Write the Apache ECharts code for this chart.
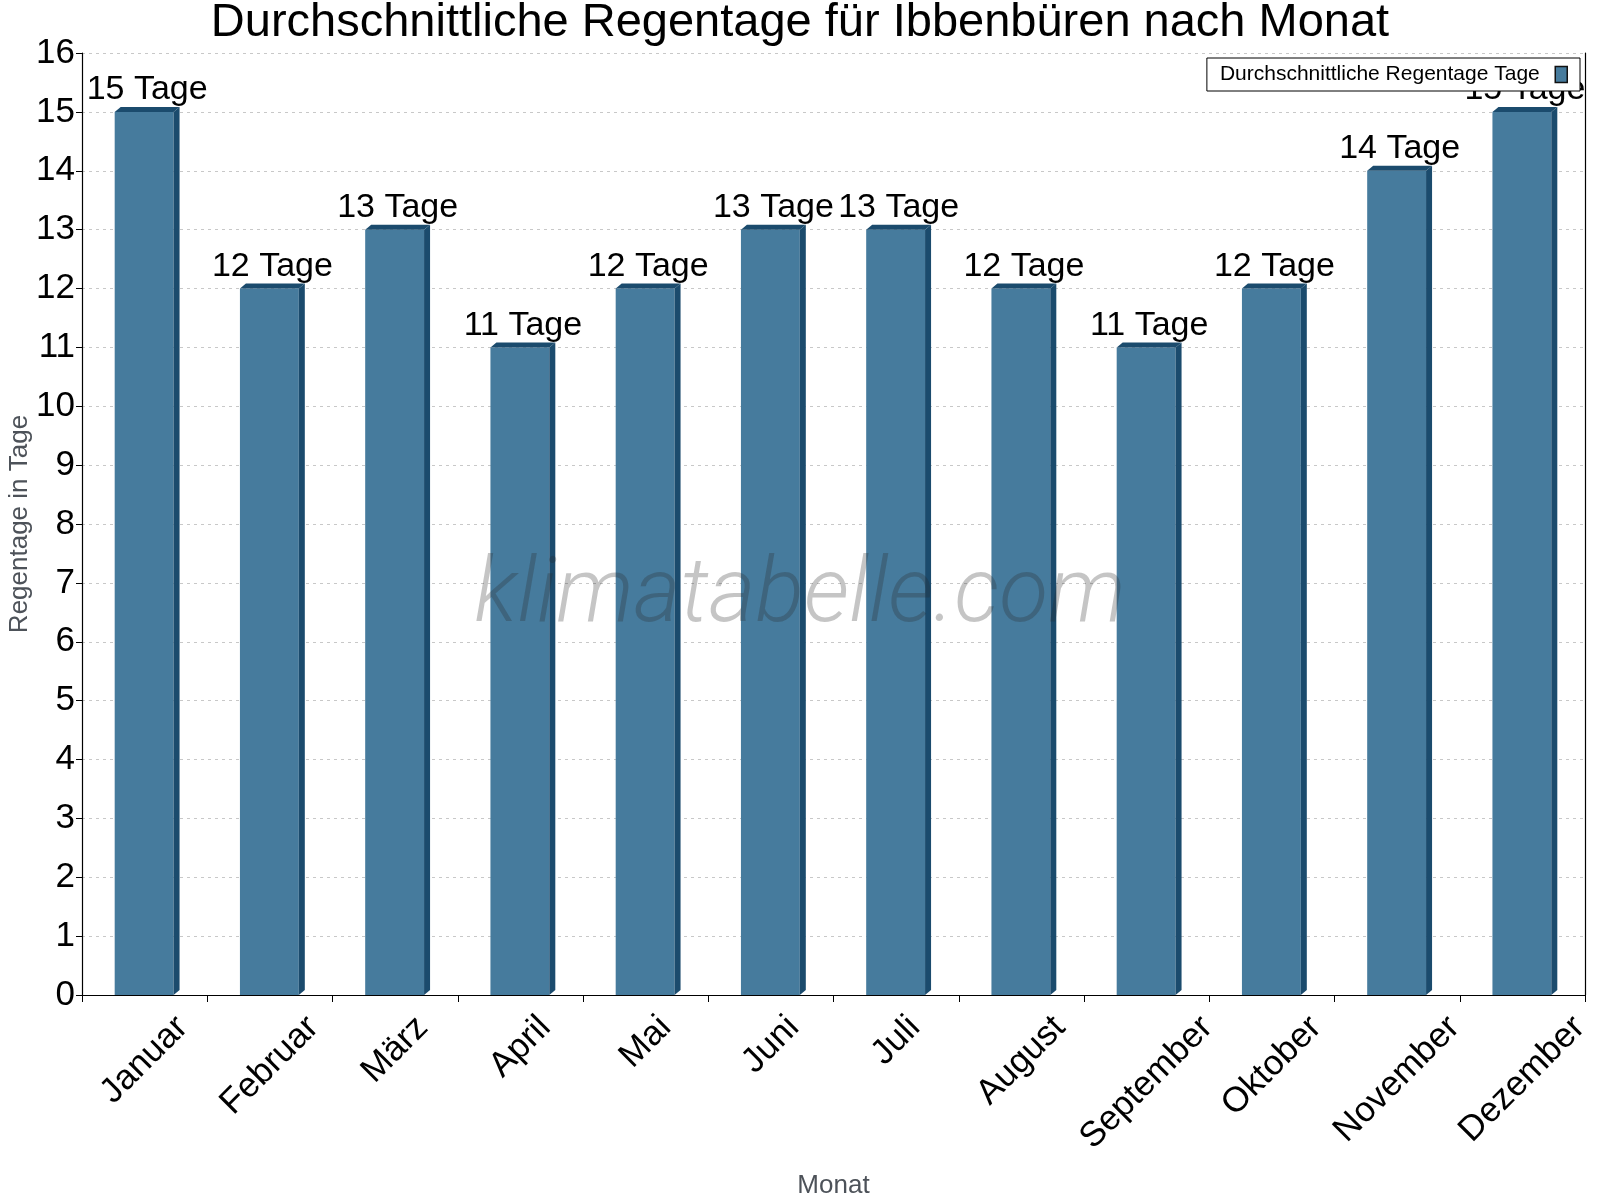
<!DOCTYPE html>
<html>
<head>
<meta charset="utf-8">
<script src="https://cdn.jsdelivr.net/npm/echarts/dist/echarts.min.js"></script>
<style>html,body{margin:0;padding:0;background:#fff}#c{width:1600px;height:1200px}</style>
</head>
<body>
<div id="c"></div>
<script>
// ---- data ----
const months = ['Januar', 'Februar', 'März', 'April', 'Mai', 'Juni', 'Juli', 'August', 'September', 'Oktober', 'November', 'Dezember'];
const rainDays = [15, 12, 13, 11, 12, 13, 13, 12, 11, 12, 14, 15];
const valueSuffix = ' Tage';
const titleText = 'Durchschnittliche Regentage für Ibbenbüren nach Monat';
const seriesName = 'Durchschnittliche Regentage Tage';
const yAxisName = 'Regentage in Tage';
const xAxisName = 'Monat';
const watermarkText = 'klimatabelle.com';

// ---- style ----
const FONT = '"Liberation Sans", Arial, sans-serif';
const FRONT = '#467b9d';
const DARK = '#1b4b6d';
const VALUE_SIZE = 34;
const CAT_SIZE = 35;

const ctx2d = document.createElement('canvas').getContext('2d');
function textWidth(t, size) {
  ctx2d.font = size + 'px "Liberation Sans", Arial, sans-serif';
  return ctx2d.measureText(t).width;
}

const chart = echarts.init(document.getElementById('c'), null, {renderer: 'canvas'});

function renderItem(params, api) {
  const i = api.value(0);
  const v = api.value(1);
  const cTop = api.coord([i, v]);
  const cBase = api.coord([i, 0]);
  const bw = api.size([1, 0])[0] * 0.47;
  const x0 = cTop[0] - bw / 2 - 0.5;
  const x1 = x0 + bw;
  const dx = 6, dy = 5;
  const yT = cTop[1], yB = cBase[1];
  const label = months[i];
  const lw = textWidth(label, CAT_SIZE);
  const lh = CAT_SIZE * 1.15;
  const half = (lw + lh) * Math.SQRT1_2 / 2;
  return {
    type: 'group',
    children: [
      {type: 'rect', shape: {x: x0, y: yT, width: bw, height: yB - yT}, style: {fill: FRONT}},
      {type: 'polygon', shape: {points: [[x1, yT], [x1 + dx, yT - dy], [x1 + dx, yB - dy], [x1, yB]]}, style: {fill: DARK}},
      {type: 'polygon', shape: {points: [[x0, yT], [x0 + dx, yT - dy], [x1 + dx, yT - dy], [x1, yT]]}, style: {fill: DARK}},
      {type: 'text', x: x0 + (bw + dx) / 2, y: yT - 5,
        style: {text: v + valueSuffix, font: VALUE_SIZE + 'px ' + FONT, fill: '#000', align: 'center', verticalAlign: 'bottom'}},
      {type: 'text', x: cBase[0], y: yB + 13 + half, rotation: Math.PI / 4,
        style: {text: label, font: CAT_SIZE + 'px ' + FONT, fill: '#000', align: 'center', verticalAlign: 'middle'}}
    ]
  };
}

const option = {
  backgroundColor: '#fff',
  animation: false,
  title: {
    text: titleText,
    left: 'center',
    top: 0,
    padding: 0,
    textStyle: {fontFamily: FONT, fontSize: 47, fontWeight: 'normal', color: '#000'}
  },
  legend: {
    right: 20,
    top: 58,
    align: 'right',
    icon: 'rect',
    itemWidth: 12,
    itemHeight: 16,
    padding: [6, 12, 6, 13],
    borderColor: '#000',
    borderWidth: 1,
    borderRadius: 0,
    backgroundColor: '#fff',
    textStyle: {fontFamily: FONT, fontSize: 21, color: '#000'},
    formatter: name => name + '\u2002',
    data: [{name: seriesName, itemStyle: {color: FRONT, borderColor: '#111', borderWidth: 1.5}}],
    z: 10
  },
  grid: {left: 82, right: 15, top: 53, bottom: 205, containLabel: false, outerBoundsMode: 'none'},
  xAxis: {
    type: 'category',
    data: months,
    boundaryGap: true,
    name: xAxisName,
    nameLocation: 'middle',
    nameGap: 178,
    nameMoveOverlap: false,
    nameTextStyle: {fontFamily: FONT, fontSize: 26, color: '#4d5259'},
    axisLine: {show: true, lineStyle: {color: '#000', width: 1.2}},
    axisTick: {show: true, length: 7, lineStyle: {color: '#000'}},
    axisLabel: {show: false},
    splitLine: {show: false}
  },
  yAxis: [{
    type: 'value',
    min: 0,
    max: 16,
    interval: 1,
    name: yAxisName,
    nameLocation: 'middle',
    nameGap: 49,
    nameMoveOverlap: false,
    nameTextStyle: {fontFamily: FONT, fontSize: 26, color: '#4d5259'},
    axisLine: {show: true, lineStyle: {color: '#000', width: 1.2}},
    axisTick: {show: true, length: 6, lineStyle: {color: '#000'}},
    axisLabel: {fontFamily: FONT, fontSize: 35, color: '#000', margin: 7},
    splitLine: {show: true, lineStyle: {color: '#c8c8c8', type: [3, 4], width: 1}}
  }, {
    type: 'value',
    min: 0,
    max: 16,
    interval: 1,
    position: 'right',
    axisLine: {show: true, lineStyle: {color: '#000', width: 1.2}},
    axisTick: {show: false},
    axisLabel: {show: false},
    splitLine: {show: false}
  }],
  series: [{
    name: seriesName,
    type: 'custom',
    clip: false,
    renderItem: renderItem,
    itemStyle: {color: FRONT},
    encode: {x: 0, y: 1},
    data: rainDays.map((v, i) => [i, v]),
    z: 3
  }],
  graphic: [{
    type: 'text',
    x: 800,
    y: 598,
    z: 100,
    silent: true,
    style: {
      text: watermarkText,
      font: 'italic 300 90px Roboto, "Liberation Sans", sans-serif',
      fill: 'rgba(40,40,40,0.27)',
      align: 'center',
      verticalAlign: 'middle'
    }
  }]
};
chart.setOption(option);
</script>
</body>
</html>
